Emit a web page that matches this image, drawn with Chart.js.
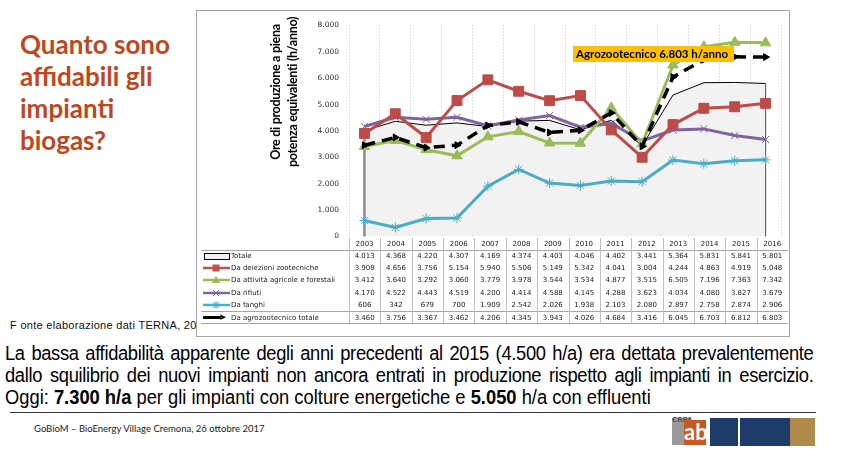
<!DOCTYPE html>
<html>
<head>
<meta charset="utf-8">
<script src="https://cdn.jsdelivr.net/npm/chart.js@4.4.1/dist/chart.umd.min.js"></script>
<style>
  body { margin: 0; width: 842px; height: 474px; background: #fff; position: relative; overflow: hidden; font-family: 'Liberation Sans', Arial, sans-serif; }
  .abs { position: absolute; }
  #title { left: 20px; top: 28px; width: 175px; font-family: Lato, sans-serif; font-weight: bold; font-size: 26px; line-height: 32px; color: #C0461E; }
  #fonte { left: 10px; top: 319px; font-size: 11px; color: #111; white-space: nowrap; letter-spacing: 0.3px; }
  #box { left: 196px; top: 10px; width: 592px; height: 325px; border: 1px solid #a6a6a6; background: #fff; }
  #wrap { left: 0; top: 0; width: 592px; height: 240px; }
  #ytitle { left: 199px; top: 75px; width: 170px; transform: rotate(-90deg); transform-origin: center; text-align: center; font-family: Lato, sans-serif; font-weight: bold; font-size: 12.5px; letter-spacing: -0.3px; line-height: 17px; color: #000; white-space: nowrap; }
  .cell { position: absolute; font-family: 'DejaVu Sans', sans-serif; font-size: 7px; color: #222; text-align: center; line-height: 12px; height: 12px; }
  .lbl { text-align: left; }
  .hl { position: absolute; height: 1px; background: #a6a6a6; }
  .vl { position: absolute; width: 1px; background: #c0c0c0; }
  .body { left: 5px; width: 860px; transform: scaleX(0.94); transform-origin: left top; font-family: 'Liberation Sans', Arial, sans-serif; font-size: 19.5px; line-height: 22px; color: #000; white-space: nowrap; }
  .just { text-align: justify; text-align-last: justify; letter-spacing: -0.35px; }
  #footline { left: 10px; top: 412px; width: 806px; height: 1px; background: #333; }
  #foot { left: 34px; top: 423px; font-family: Lato, sans-serif; font-size: 9.5px; color: #222; }
</style>
</head>
<body>
<div id="title" class="abs">Quanto sono affidabili gli impianti biogas?</div>
<div id="fonte" class="abs">F onte elaborazione dati TERNA, 2017</div>
<div id="box" class="abs">
  <div id="wrap" class="abs"><canvas id="chart"></canvas></div>
</div>
<div id="ytitle" class="abs">Ore di produzione a piena<br>potenza equivalenti (h/anno)</div>
<div id="table"></div>

<div class="abs body just" style="top:342px">La bassa affidabilità apparente degli anni precedenti al 2015 (4.500 h/a) era dettata prevalentemente</div>
<div class="abs body just" style="top:364px">dallo squilibrio dei nuovi impianti non ancora entrati in produzione rispetto agli impianti in esercizio.</div>
<div class="abs body" style="top:386px">Oggi: <b>7.300 h/a</b> per gli impianti con colture energetiche e <b>5.050</b> h/a con effluenti</div>
<div id="footline" class="abs"></div>
<div id="foot" class="abs">GoBioM – BioEnergy Village Cremona, 26 ottobre 2017</div>

<!-- logos -->
<div class="abs" style="left:672px;top:418px;width:18px;height:27px;background:#9a9a9a"></div>
<div class="abs" style="left:672px;top:416px;font:bold 7px 'DejaVu Sans';color:#555">CRPA</div>
<div class="abs" style="left:684px;top:420px;width:22px;height:25px;background:#c9581f;color:#fff;font:bold 22px Lato;line-height:24px;text-align:center">ab</div>
<div class="abs" style="left:710px;top:418px;width:28px;height:28px;background:#1e3a6a"></div>
<div class="abs" style="left:740px;top:418px;width:50px;height:28px;background:#1e3a6a"></div>
<div class="abs" style="left:790px;top:418px;width:25px;height:28px;background:#b08a4a"></div>

<script>
const years = ['2003','2004','2005','2006','2007','2008','2009','2010','2011','2012','2013','2014','2015','2016'];
const totale = [4013, 4368, 4220, 4307, 4169, 4374, 4403, 4046, 4402, 3441, 5364, 5831, 5841, 5801];
const deiezioni = [3908, 4656, 3756, 5154, 5940, 5506, 5149, 5342, 4041, 3004, 4244, 4863, 4919, 5048];
const agricole = [3412, 3640, 3292, 3060, 3779, 3978, 3544, 3534, 4877, 3515, 6505, 7196, 7363, 7342];
const rifiuti = [4170, 4522, 4443, 4519, 4200, 4414, 4588, 4145, 4288, 3623, 4034, 4080, 3827, 3679];
const fanghi = [606, 342, 679, 700, 1909, 2542, 2026, 1938, 2103, 2080, 2897, 2758, 2874, 2906];
const agrozoo = [3460, 3756, 3367, 3462, 4206, 4345, 3943, 4026, 4684, 3416, 6045, 6703, 6812, 6803];
const seriesNames = ['Totale', 'Da deiezioni zootecniche', 'Da attività agricole e forestali', 'Da rifiuti', 'Da fanghi', 'Da agrozootecnico totale'];
const calloutText = 'Agrozootecnico 6.803 h/anno';

const fmt = v => String(v).replace(/\B(?=(\d{3})+(?!\d))/g, '.');

// table under the chart
const tbl = document.getElementById('table');
const colL = 349, colW = 439 / 14;
const rowY = [238, 250, 262, 274, 287, 299, 312];
const rows = [totale, deiezioni, agricole, rifiuti, fanghi, agrozoo];
const colors = ['#000', '#C0504D', '#9BBB59', '#8064A2', '#4BACC6', '#000'];
function add(html) { tbl.insertAdjacentHTML('beforeend', html); }
years.forEach((y, i) => add(`<div class="cell" style="left:${colL + i * colW}px;top:${rowY[0]}px;width:${colW}px">${y}</div>`));
rows.forEach((r, ri) => {
  r.forEach((v, i) => add(`<div class="cell" style="left:${colL + i * colW}px;top:${rowY[ri + 1]}px;width:${colW}px">${fmt(v)}</div>`));
  add(`<div class="cell lbl" style="left:231px;top:${rowY[ri + 1]}px;width:118px">${seriesNames[ri]}</div>`);
  let icon;
  if (ri === 0) icon = `<div class="abs" style="left:204px;top:${rowY[1] + 3}px;width:24px;height:5px;border:1px solid #000;background:#f2f2f2"></div>`;
  else if (ri === 5) icon = `<div class="abs" style="left:203px;top:${rowY[6] + 4}px;width:18px;height:3px;background:#000"></div><div class="abs" style="left:219px;top:${rowY[6] - 1}px;font:9px 'DejaVu Sans';line-height:12px">➤</div>`;
  else {
    const mk = ['', '<rect x="10" y="2" width="6" height="6"/>', '<path d="M13 1.5 L16.5 7.5 L9.5 7.5Z"/>', '<path d="M10 2 L16 8 M16 2 L10 8" stroke-width="1"/>', '<path d="M10 2 L16 8 M16 2 L10 8 M13 1 L13 9" stroke-width="1"/>'][ri];
    icon = `<svg class="abs" style="left:203px;top:${rowY[ri + 1] + 1}px" width="27" height="10"><line x1="0" y1="5" x2="27" y2="5" stroke="${colors[ri]}" stroke-width="2.5"/><g fill="${colors[ri]}" stroke="${colors[ri]}">${mk}</g></svg>`;
  }
  add(icon);
});
add(`<div class="hl" style="left:201px;top:250px;width:587px"></div>`);
add(`<div class="hl" style="left:201px;top:311px;width:587px"></div>`);
add(`<div class="hl" style="left:201px;top:323px;width:587px"></div>`);
for (let k = 0; k <= 13; k++) add(`<div class="vl" style="left:${Math.round(colL + k * colW)}px;top:238px;height:85px"></div>`);

// gray edges of the Totale area
const edgePlugin = {
  id: 'edges',
  afterDatasetDraw(chart, args) {
    if (args.index !== 0) return;
    const meta = args.meta, ctx = chart.ctx, y0 = chart.scales.y.getPixelForValue(0);
    const a = meta.data[0], b = meta.data[meta.data.length - 1];
    ctx.save();
    ctx.strokeStyle = '#8c8c8c';
    ctx.lineWidth = 2.5;
    ctx.beginPath(); ctx.moveTo(a.x, a.y); ctx.lineTo(a.x, y0); ctx.stroke();
    ctx.lineWidth = 1.2;
    ctx.strokeStyle = '#666';
    ctx.beginPath(); ctx.moveTo(b.x, b.y); ctx.lineTo(b.x, y0); ctx.stroke();
    ctx.restore();
  }
};

// orange callout box
const calloutPlugin = {
  id: 'callout',
  afterDatasetsDraw(chart) {
    const ctx = chart.ctx;
    ctx.save();
    ctx.font = "bold 11.5px Lato, sans-serif";
    const x = 376, y = 35;
    ctx.fillStyle = '#FFC000';
    ctx.fillRect(x, y, 161, 16);
    ctx.fillStyle = '#000';
    ctx.textBaseline = 'middle';
    ctx.fillText(calloutText, x + 3, y + 8.5);
    ctx.restore();
  }
};

new Chart(document.getElementById('chart'), {
  type: 'line',
  data: {
    labels: years,
    datasets: [
      { label: seriesNames[0], data: totale, order: 10, fill: 'origin', backgroundColor: '#F2F2F2', borderColor: '#000', borderWidth: 1, pointRadius: 0, tension: 0 },
      { label: seriesNames[4], data: fanghi, order: 6, borderColor: '#4BACC6', backgroundColor: '#4BACC6', borderWidth: 3, pointStyle: 'star', pointRadius: 5, pointBorderWidth: 1, pointBorderColor: '#4BACC6' },
      { label: seriesNames[3], data: rifiuti, order: 5, borderColor: '#7F63A1', backgroundColor: '#7F63A1', borderWidth: 3, pointStyle: 'crossRot', pointRadius: 5, pointBorderWidth: 1, pointBorderColor: '#7F63A1' },
      { label: seriesNames[2], data: agricole, order: 4, borderColor: '#9BBB59', backgroundColor: '#9BBB59', borderWidth: 3, pointStyle: 'triangle', pointRadius: 6, pointBorderWidth: 1 },
      { label: seriesNames[1], data: deiezioni, order: 3, borderColor: '#BE4B48', backgroundColor: '#BE4B48', borderWidth: 3, pointStyle: 'rect', pointRadius: 7, pointBorderWidth: 1 },
      { label: seriesNames[5], data: agrozoo, order: 2, borderColor: '#000', backgroundColor: '#000', borderWidth: 3.5, borderDash: [11, 7], pointStyle: 'triangle', pointRotation: 90, pointRadius: 4, pointBorderWidth: 1 }
    ]
  },
  options: {
    responsive: true,
    maintainAspectRatio: false,
    animation: false,
    events: [],
    layout: { padding: { top: 10.5, bottom: 13.5, left: 0, right: 1 } },
    plugins: { legend: { display: false }, tooltip: { enabled: false } },
    scales: {
      x: {
        offset: true,
        ticks: { display: false },
        grid: { offset: true, drawTicks: false, color: '#c4c4c4', lineWidth: 1 },
        border: { display: false, dash: [1, 2] }
      },
      y: {
        min: 0,
        max: 8000,
        afterFit(scale) { scale.width = 152; },
        ticks: { stepSize: 1000, padding: 10, color: '#333', font: { family: 'DejaVu Sans', size: 7.5 }, callback: v => fmt(v) },
        grid: { display: false, drawTicks: false },
        border: { display: false }
      }
    }
  },
  plugins: [edgePlugin, calloutPlugin]
});
</script>
</body>
</html>
